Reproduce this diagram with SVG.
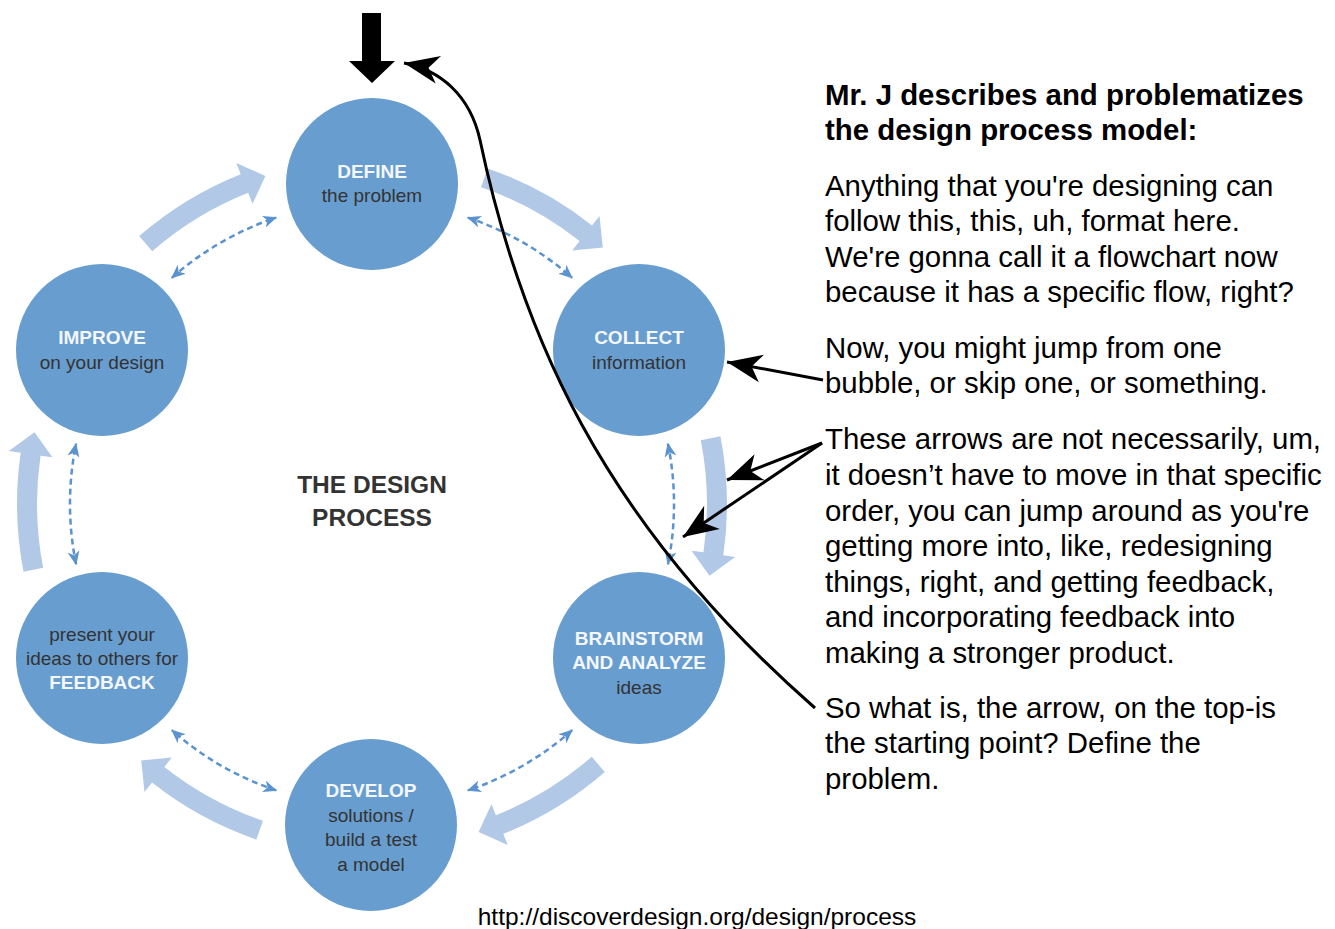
<svg xmlns="http://www.w3.org/2000/svg" xmlns:xlink="http://www.w3.org/1999/xlink" width="1335" height="929" viewBox="0 0 1335 929">
<style>
text{font-family:"Liberation Sans",Arial,Helvetica,sans-serif}
.node{fill:#689dcf}
.hi{fill:#f4f7fb;font-weight:bold;font-size:19px;text-anchor:middle}
.lo{fill:#333;font-size:19px;text-anchor:middle}
.title{fill:#333;font-weight:bold;font-size:24.5px;text-anchor:middle}
.big{fill:#b1c8e6}
.dash{fill:none;stroke:#5b93cf;stroke-width:2.5;stroke-dasharray:6 4;marker-start:url(#dh);marker-end:url(#dh)}
.blk{fill:none;stroke:#000;stroke-width:3;marker-end:url(#bh)}
.note{fill:#000;font-size:29.4px}
.head{fill:#000;font-size:29.4px;font-weight:bold}
</style>
<defs>
<marker id="dh" markerUnits="userSpaceOnUse" viewBox="0 0 14 12" markerWidth="14" markerHeight="12" refX="13" refY="6" orient="auto-start-reverse">
<path d="M0,0 L14,6 L0,12 L4,6 Z" fill="#5b93cf"/>
</marker>
<marker id="bh" markerUnits="userSpaceOnUse" viewBox="-36 -16 40 32" markerWidth="40" markerHeight="32" refX="0" refY="0" orient="auto" overflow="visible">
<path d="M0,0 L-35,-14 L-25,0 L-35,14 Z" fill="#000"/>
</marker>
<path id="bigArrow" d="M487.6,168.4 A355,355 0 0 1 592.0,225.4 L599.5,216.0 L602.8,247.6 L572.2,250.5 L579.6,241.1 A335,335 0 0 0 481.1,187.3 Z"/>
</defs>

<g id="cycle-arrows">
<use xlink:href="#bigArrow" class="big" transform="rotate(0 372 504)"/>
<use xlink:href="#bigArrow" class="big" transform="rotate(60 372 504)"/>
<use xlink:href="#bigArrow" class="big" transform="rotate(120 372 504)"/>
<use xlink:href="#bigArrow" class="big" transform="rotate(180 372 504)"/>
<use xlink:href="#bigArrow" class="big" transform="rotate(240 372 504)"/>
<use xlink:href="#bigArrow" class="big" transform="rotate(300 372 504)"/>
<g class="dash">
<path d="M467.8,217.6 A302,302 0 0 1 572.1,277.8" transform="rotate(0 372 504)"/>
<path d="M467.8,217.6 A302,302 0 0 1 572.1,277.8" transform="rotate(60 372 504)"/>
<path d="M467.8,217.6 A302,302 0 0 1 572.1,277.8" transform="rotate(120 372 504)"/>
<path d="M467.8,217.6 A302,302 0 0 1 572.1,277.8" transform="rotate(180 372 504)"/>
<path d="M467.8,217.6 A302,302 0 0 1 572.1,277.8" transform="rotate(240 372 504)"/>
<path d="M467.8,217.6 A302,302 0 0 1 572.1,277.8" transform="rotate(300 372 504)"/>
</g>
</g>

<g id="define">
<circle class="node" cx="372" cy="184" r="86"/>
<text class="hi" x="372" y="178">DEFINE</text>
<text class="lo" x="372" y="202">the problem</text>
</g>
<g id="collect">
<circle class="node" cx="639" cy="350" r="86"/>
<text class="hi" x="639" y="344">COLLECT</text>
<text class="lo" x="639" y="369">information</text>
</g>
<g id="brainstorm">
<circle class="node" cx="639" cy="658" r="86"/>
<text class="hi" x="639" y="645">BRAINSTORM</text>
<text class="hi" x="639" y="669">AND ANALYZE</text>
<text class="lo" x="639" y="694">ideas</text>
</g>
<g id="develop">
<circle class="node" cx="371" cy="825" r="86"/>
<text class="hi" x="371" y="797">DEVELOP</text>
<text class="lo" x="371" y="822">solutions /</text>
<text class="lo" x="371" y="846">build a test</text>
<text class="lo" x="371" y="871">a model</text>
</g>
<g id="feedback">
<circle class="node" cx="102" cy="658" r="86"/>
<text class="lo" x="102" y="641">present your</text>
<text class="lo" x="102" y="665">ideas to others for</text>
<text class="hi" x="102" y="689">FEEDBACK</text>
</g>
<g id="improve">
<circle class="node" cx="102" cy="350" r="86"/>
<text class="hi" x="102" y="344">IMPROVE</text>
<text class="lo" x="102" y="369">on your design</text>
</g>

<g id="center-title">
<text class="title" x="372" y="493">THE DESIGN</text>
<text class="title" x="372" y="526">PROCESS</text>
</g>

<g id="annotation-arrows">
<polygon points="362,13 381,13 381,61 395,61 372,83 349,61 362,61" fill="#000"/>
<path class="blk" d="M815,708 C600,520 520,330 480,140 C470,95 440,70 404,63"/>
<path class="blk" d="M823,380 L727,362"/>
<path class="blk" d="M822,443 L727,480"/>
<path class="blk" d="M822,443 L683,537"/>
</g>

<g id="notes">
<text class="head" x="825" y="105">Mr. J describes and problematizes</text>
<text class="head" x="825" y="140">the design process model:</text>
<text class="note" x="825" y="196">Anything that you're designing can</text>
<text class="note" x="825" y="231">follow this, this, uh, format here.</text>
<text class="note" x="825" y="267">We're gonna call it a flowchart now</text>
<text class="note" x="825" y="302">because it has a specific flow, right?</text>
<text class="note" x="825" y="358">Now, you might jump from one</text>
<text class="note" x="825" y="393">bubble, or skip one, or something.</text>
<text class="note" x="825" y="449">These arrows are not necessarily, um,</text>
<text class="note" x="825" y="485">it doesn’t have to move in that specific</text>
<text class="note" x="825" y="521">order, you can jump around as you're</text>
<text class="note" x="825" y="556">getting more into, like, redesigning</text>
<text class="note" x="825" y="592">things, right, and getting feedback,</text>
<text class="note" x="825" y="627">and incorporating feedback into</text>
<text class="note" x="825" y="663">making a stronger product.</text>
<text class="note" x="825" y="718">So what is, the arrow, on the top-is</text>
<text class="note" x="825" y="753">the starting point? Define the</text>
<text class="note" x="825" y="789">problem.</text>
</g>

<text x="697" y="925" style="font-size:24.5px;text-anchor:middle;fill:#000">http://discoverdesign.org/design/process</text>
</svg>
